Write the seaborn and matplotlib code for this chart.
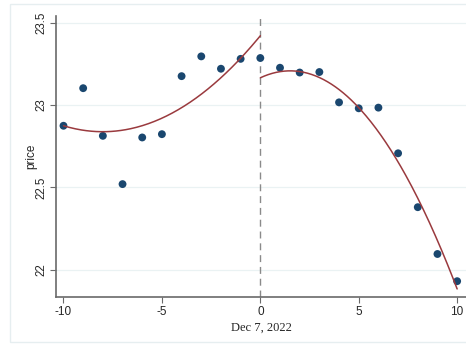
import numpy as np
import pandas as pd
import matplotlib
matplotlib.use("Agg")
import matplotlib.pyplot as plt
import seaborn as sns
from matplotlib.patches import Rectangle

days = list(range(-10, 11))
price = [22.874, 23.102, 22.813, 22.520, 22.803, 22.823, 23.175, 23.295, 23.220, 23.280,
         23.285, 23.226, 23.197, 23.200, 23.016, 22.980, 22.984, 22.707, 22.380, 22.096, 21.931]
# fitted quadratic curve values at three days per side
fit_left_days = [-10, -5, 0]
fit_left_vals = [22.874, 22.920, 23.420]
fit_right_days = [0, 5, 10]
fit_right_vals = [23.165, 22.984, 21.884]
yticks = [22, 22.5, 23, 23.5]
ytick_labels = ["22", "22.5", "23", "23.5"]
xticks = [-10, -5, 0, 5, 10]
xlabel = "Dec 7, 2022"
ylabel = "price"

df = pd.DataFrame({"days": days, "price": price})

sns.set_style("white")
plt.rcParams['font.family'] = ['Liberation Sans', 'DejaVu Sans']

fig = plt.figure(figsize=(4.66, 3.44), dpi=100)
ax = fig.add_axes([0.1202, 0.1366, 0.8798, 0.8169])

cl = np.polyfit(fit_left_days, fit_left_vals, 2)
cr = np.polyfit(fit_right_days, fit_right_vals, 2)
xl = np.linspace(-10, 0, 200)
xr = np.linspace(0, 10, 200)
fit = pd.DataFrame({
    "x": np.concatenate([xl, xr]),
    "y": np.concatenate([np.polyval(cl, xl), np.polyval(cr, xr)]),
    "side": ["L"] * len(xl) + ["R"] * len(xr),
})

for yv in yticks:
    ax.axhline(yv, color="#eaf2f3", lw=0.9, zorder=0)
ax.axvline(0, color="#8a8a8a", lw=1.0, ls=(0, (5, 3.5)), zorder=1)

sns.scatterplot(data=df, x="days", y="price", ax=ax, color="#1a476f", s=32,
                edgecolor="none", zorder=3)
sns.lineplot(data=fit, x="x", y="y", units="side", estimator=None, ax=ax,
             color="#9a3a3e", lw=1.1, zorder=4)

ax.set_xlim(-10.38, 10.45)
ax.set_ylim(21.835, 23.54)
ax.set_xticks(xticks)
ax.set_xticklabels([str(t) for t in xticks], fontsize=8.5)
ax.set_yticks(yticks)
ax.set_yticklabels(ytick_labels, fontsize=8.3, rotation=90, va="center")
ax.tick_params(axis="both", direction="out", length=4, width=0.8, color="#6a6a6a",
               left=True, bottom=True, pad=2.5)
for s in ["top", "right"]:
    ax.spines[s].set_visible(False)
for s in ["left", "bottom"]:
    ax.spines[s].set_color("#6a6a6a")
    ax.spines[s].set_linewidth(1.2)

ax.set_xlabel(xlabel, fontsize=9, family=["Liberation Serif", "DejaVu Serif"], labelpad=3)
ax.set_ylabel(ylabel, fontsize=8.5, labelpad=-1.5)

fig.patches.append(Rectangle((10 / 466, 1 - 342 / 344), 1.0, (342 - 4) / 344,
                             transform=fig.transFigure, fill=False,
                             edgecolor="#e6eef0", lw=1.0))

fig.savefig("out.png", dpi=100)
